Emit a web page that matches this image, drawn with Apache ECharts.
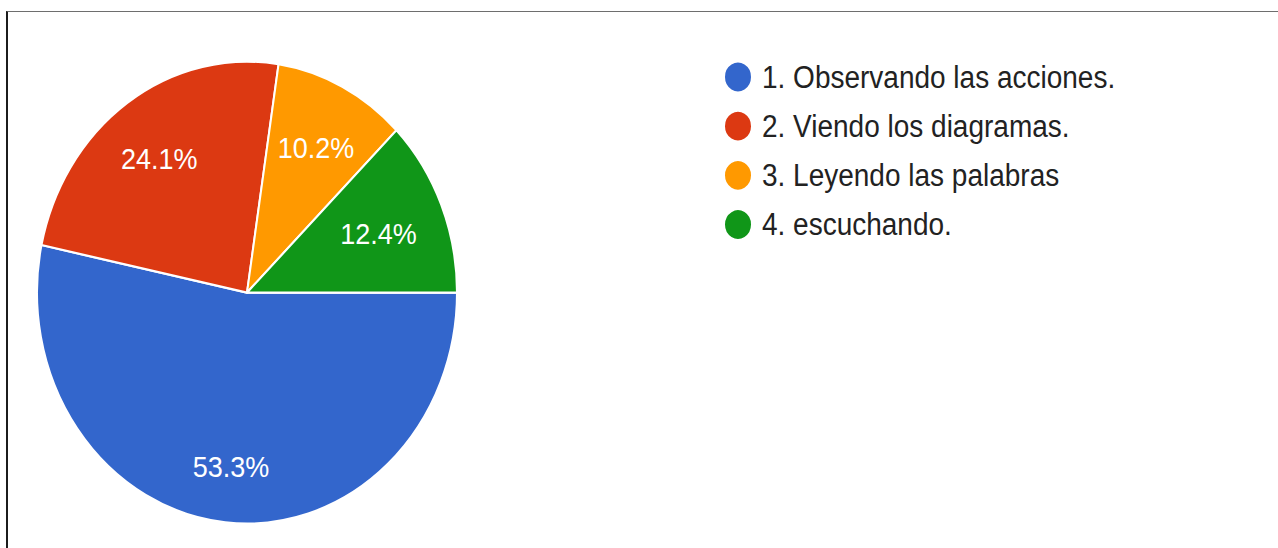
<!DOCTYPE html>
<html>
<head>
<meta charset="utf-8">
<script src="https://cdn.jsdelivr.net/npm/echarts@6/dist/echarts.min.js"></script>
<style>
  html, body { margin: 0; padding: 0; background: #fff; }
  #wrap { position: relative; width: 1278px; height: 548px; overflow: hidden; background: #fff; }
  /* the frame lines of the original screenshot */
  #frame { position: absolute; left: 6px; top: 11px; right: 0; bottom: -20px;
           border-top: 1px solid #6e6e6e; border-left: 2px solid #1c1c1c; }
  /* the reference is stretched vertically by about 1.1 */
  #chart { position: absolute; left: 0; top: 0; width: 1278px; height: 498px;
           transform: scaleY(1.1); transform-origin: 0 0; }
</style>
</head>
<body>
<div id="wrap">
  <div id="frame"></div>
  <div id="chart"></div>
</div>
<script>
// categories and values
var names = ['1. Observando las acciones.', '2. Viendo los diagramas.', '3. Leyendo las palabras', '4. escuchando.'];
var values = [53.3, 24.1, 10.2, 12.4];
var colors = ['#3366cc', '#dc3912', '#ff9900', '#109618'];

var font = 'Arial, "Liberation Sans", sans-serif';

// small nudges of the percentage labels (top, right, bottom, left padding)
var labelPads = [[6, 0, 0, 0], [0, 0, 0, 0], [0, 2, 0, 0], [0, 22, 0, 0]];

var pieData = [];
var labelData = [];
for (var i = 0; i < names.length; i++) {
    pieData.push({ name: names[i], value: values[i], itemStyle: { color: colors[i] } });
    labelData.push({ name: names[i], value: values[i], label: { padding: labelPads[i] } });
}

var myChart = echarts.init(document.getElementById('chart'), null, { renderer: 'svg' });
var option = {
    animation: false,
    backgroundColor: 'transparent',
    legend: {
        data: names,
        orient: 'vertical',
        left: 723,
        top: 55,
        padding: 0,
        icon: 'circle',
        itemWidth: 28,
        itemHeight: 28,
        itemGap: 14.7,
        selectedMode: false,
        textStyle: { color: '#222', fontSize: 28, fontFamily: font, padding: [0, 0, 0, 5] }
    },
    series: [
        {
            type: 'pie',
            center: [247, 266],
            radius: [0, 210],
            startAngle: 0,
            clockwise: true,
            padAngle: 0,
            avoidLabelOverlap: false,
            itemStyle: { borderColor: '#fff', borderWidth: 2, borderRadius: 0 },
            label: { show: false },
            labelLine: { show: false },
            emphasis: { disabled: true },
            data: pieData
        },
        {
            // transparent ring used only to place the percentage labels
            type: 'pie',
            center: [247, 271],
            radius: [92, 210],
            startAngle: 0,
            clockwise: true,
            silent: true,
            avoidLabelOverlap: false,
            itemStyle: { color: 'rgba(0,0,0,0)', borderWidth: 0 },
            label: {
                show: true,
                position: 'inside',
                color: '#fff',
                fontSize: 27,
                fontFamily: font,
                formatter: function (p) { return p.value.toFixed(1) + '%'; }
            },
            labelLine: { show: false },
            emphasis: { disabled: true },
            data: labelData
        }
    ]
};
myChart.setOption(option);
</script>
</body>
</html>
